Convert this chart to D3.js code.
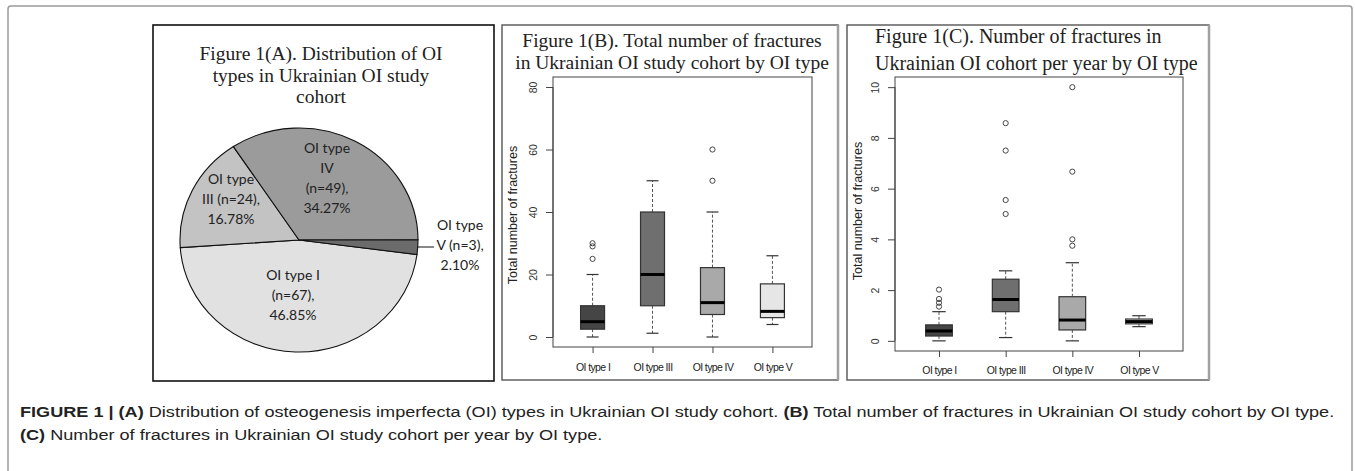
<!DOCTYPE html>
<html>
<head>
<meta charset="utf-8">
<script src="https://cdn.jsdelivr.net/npm/d3@7"></script>
<style>
  body { margin: 0; background: #fff; }
  svg { display: block; }
</style>
</head>
<body>
<svg id="chart" width="1355" height="471"></svg>
<script>
// ---- data: pie (panel A)
const pieCats = ["OI type I", "OI type III", "OI type IV", "OI type V"];
const pieCounts = [67, 24, 49, 3];
const piePcts = ["46.85%", "16.78%", "34.27%", "2.10%"];
const pieLabels = [
  ["OI type I", "(n=67),", "46.85%"],
  ["OI type", "III (n=24),", "16.78%"],
  ["OI type", "IV", "(n=49),", "34.27%"],
  ["OI type", "V (n=3),", "2.10%"]
];

// ---- data: boxplots
const boxCats = ["OI type I", "OI type III", "OI type IV", "OI type V"];

const totLow  = [0, 1.2, 0, 4];
const totQ1   = [2.5, 10, 7.2, 6.2];
const totMed  = [4.9, 20, 11, 8.2];
const totQ3   = [10, 40, 22.2, 17];
const totHigh = [20, 50, 40, 26];
const totOut  = [[25, 29, 30], [], [50, 60], []];
const totTicks = [0, 20, 40, 60, 80];

const yrLow  = [0, 0.13, 0, 0.56];
const yrQ1   = [0.19, 1.15, 0.43, 0.67];
const yrMed  = [0.39, 1.63, 0.82, 0.76];
const yrQ3   = [0.63, 2.43, 1.74, 0.86];
const yrHigh = [1.15, 2.76, 3.08, 0.99];
const yrOut  = [[1.35, 1.5, 1.65, 2.02], [5.0, 5.55, 7.5, 8.58], [3.75, 4.0, 6.67, 10], []];
const yrTicks = [0, 2, 4, 6, 8, 10];

const boxFills = ["#454545", "#6f6f6f", "#a9a9a9", "#e6e6e6"];
const pieFills = ["#e1e1e1", "#c3c3c3", "#9b9b9b", "#6b6b6b"];

const svg = d3.select("#chart");
const serif = "'Liberation Serif', 'Times New Roman', serif";
const sans = "'Liberation Sans', Arial, sans-serif";

svg.append("rect").attr("width", 1355).attr("height", 471).attr("fill", "#fff");

// outer frame
svg.append("rect")
  .attr("x", 8).attr("y", 6).attr("width", 1344).attr("height", 480)
  .attr("rx", 3)
  .attr("fill", "none").attr("stroke", "#9a9a9a").attr("stroke-width", 1.5);

// ================= Panel A =================
const pA = svg.append("g");
pA.append("rect")
  .attr("x", 153).attr("y", 25).attr("width", 341).attr("height", 356)
  .attr("fill", "#fff").attr("stroke", "#111").attr("stroke-width", 1.6);

const titleA = ["Figure 1(A). Distribution of OI", "types in Ukrainian OI study", "cohort"];
pA.selectAll(".tA").data(titleA).enter().append("text")
  .attr("x", 321).attr("y", (d, i) => 60 + i * 21.5)
  .attr("text-anchor", "middle")
  .style("font-family", serif).style("font-size", "19.5px").attr("fill", "#222")
  .text(d => d);

const cx = 299, cy = 240, rx = 119, ry = 112;
const pie = d3.pie().sort(null)
  .startAngle(Math.PI / 2 + 0.13)
  .endAngle(Math.PI / 2 + 0.13 + 2 * Math.PI);
const arc = d3.arc().innerRadius(0).outerRadius(rx);

const pieG = pA.append("g")
  .attr("transform", `translate(${cx},${cy}) scale(1,${ry / rx})`);
pieG.selectAll("path")
  .data(pie(pieCounts))
  .enter().append("path")
  .attr("d", arc)
  .attr("fill", (d, i) => pieFills[i])
  .attr("stroke", "#111")
  .attr("stroke-width", 1.1)
  .attr("vector-effect", "non-scaling-stroke");

// label anchors (centre of each label block)
const labelPos = [[293, 295], [231, 199], [327, 178], [460, 245]];
pieLabels.forEach((lines, i) => {
  const n = lines.length, lh = 20;
  pA.selectAll(null).data(lines).enter().append("text")
    .attr("x", labelPos[i][0])
    .attr("y", (d, j) => labelPos[i][1] + (j - (n - 1) / 2) * lh + 5)
    .attr("text-anchor", "middle")
    .style("font-family", "Lato, 'Open Sans', sans-serif")
    .style("font-size", "14px").attr("fill", "#222")
    .text(d => d);
});
// leader line for OI type V
pA.append("line")
  .attr("x1", 417).attr("y1", 247).attr("x2", 434).attr("y2", 247)
  .attr("stroke", "#111").attr("stroke-width", 1);

// ================= Box panels =================
function boxPanel(cfg) {
  const g = svg.append("g");
  g.append("rect")
    .attr("x", cfg.px).attr("y", 25).attr("width", cfg.pw).attr("height", 355)
    .attr("fill", "#fff").attr("stroke", "#555").attr("stroke-width", 1.4);
  g.append("line")
    .attr("x1", cfg.px + cfg.pw).attr("x2", cfg.px + cfg.pw)
    .attr("y1", 25).attr("y2", 380)
    .attr("stroke", "#a0a0a0").attr("stroke-width", 2.5);

  cfg.title.forEach((t, i) => {
    g.append("text")
      .attr("x", cfg.tx).attr("y", cfg.ty + i * cfg.tl)
      .attr("text-anchor", cfg.anchor)
      .style("font-family", serif).style("font-size", cfg.tfs).attr("fill", "#222")
      .text(t);
  });

  const x = d3.scaleLinear().domain([0.34, 4.66]).range([cfg.left, cfg.right]);
  const span = cfg.yMax;
  const y = d3.scaleLinear().domain([-0.04 * span, 1.04 * span]).range([cfg.bottom, cfg.top]);
  const bw = x(1.4) - x(1);

  // plot box
  g.append("rect")
    .attr("x", cfg.left).attr("y", cfg.top)
    .attr("width", cfg.right - cfg.left).attr("height", cfg.bottom - cfg.top)
    .attr("fill", "none").attr("stroke", "#555").attr("stroke-width", 1.1);

  const d = boxCats.map((c, i) => ({
    i, pos: i + 1, low: cfg.low[i], q1: cfg.q1[i], med: cfg.med[i],
    q3: cfg.q3[i], high: cfg.high[i], out: cfg.out[i]
  }));

  const b = g.selectAll(".box").data(d).enter().append("g");
  // whiskers
  b.append("line")
    .attr("x1", v => x(v.pos)).attr("x2", v => x(v.pos))
    .attr("y1", v => y(v.q3)).attr("y2", v => y(v.high))
    .attr("stroke", "#555").attr("stroke-dasharray", "3,2").attr("stroke-width", 1);
  b.append("line")
    .attr("x1", v => x(v.pos)).attr("x2", v => x(v.pos))
    .attr("y1", v => y(v.q1)).attr("y2", v => y(v.low))
    .attr("stroke", "#555").attr("stroke-dasharray", "3,2").attr("stroke-width", 1);
  // staples
  ["low", "high"].forEach(k => {
    b.append("line")
      .attr("x1", v => x(v.pos) - bw / 4).attr("x2", v => x(v.pos) + bw / 4)
      .attr("y1", v => y(v[k])).attr("y2", v => y(v[k]))
      .attr("stroke", "#333").attr("stroke-width", 1.2);
  });
  // boxes
  b.append("rect")
    .attr("x", v => x(v.pos) - bw / 2).attr("width", bw)
    .attr("y", v => y(v.q3)).attr("height", v => y(v.q1) - y(v.q3))
    .attr("fill", v => boxFills[v.i]).attr("stroke", "#333").attr("stroke-width", 1.2);
  // medians
  b.append("line")
    .attr("x1", v => x(v.pos) - bw / 2).attr("x2", v => x(v.pos) + bw / 2)
    .attr("y1", v => y(v.med)).attr("y2", v => y(v.med))
    .attr("stroke", "#000").attr("stroke-width", 3);
  // outliers
  b.selectAll("circle").data(v => v.out.map(o => ({ pos: v.pos, o }))).enter()
    .append("circle")
    .attr("cx", o => x(o.pos)).attr("cy", o => y(o.o)).attr("r", 2.6)
    .attr("fill", "none").attr("stroke", "#333").attr("stroke-width", 0.9);

  // y axis
  const ya = g.append("g").attr("transform", `translate(${cfg.left},0)`)
    .call(d3.axisLeft(y).tickValues(cfg.ticks).tickSize(7).tickSizeOuter(0));
  ya.select(".domain").remove();
  ya.append("line")
    .attr("y1", y(cfg.ticks[0])).attr("y2", y(cfg.ticks[cfg.ticks.length - 1]))
    .attr("stroke", "#444");
  ya.selectAll(".tick line").attr("stroke", "#444");
  ya.selectAll(".tick text")
    .attr("x", null).attr("dy", null)
    .attr("transform", "translate(-16.5,0) rotate(-90)")
    .attr("text-anchor", "middle")
    .style("font-family", sans).style("font-size", "10.5px").attr("fill", "#333");

  // x axis
  const xa = g.append("g").attr("transform", `translate(0,${cfg.bottom})`)
    .call(d3.axisBottom(x).tickValues([1, 2, 3, 4]).tickFormat(p => boxCats[p - 1]).tickSize(6).tickSizeOuter(0));
  xa.select(".domain").remove();
  xa.selectAll(".tick line").attr("stroke", "#444");
  xa.selectAll(".tick text")
    .attr("y", cfg.xly).attr("dy", null)
    .style("font-family", sans).style("font-size", "10.5px").attr("fill", "#222")
    .style("letter-spacing", "-0.6px");

  // y title
  const yc = (cfg.top + cfg.bottom) / 2 + cfg.yoff;
  g.append("text")
    .attr("transform", `translate(${cfg.ytx},${yc}) rotate(-90)`)
    .attr("text-anchor", "middle")
    .style("font-family", sans).style("font-size", "12.5px").attr("fill", "#222")
    .text("Total number of fractures");
}

boxPanel({
  px: 502, pw: 336,
  title: ["Figure 1(B). Total number of fractures", "in Ukrainian OI study cohort by OI type"],
  tx: 672, ty: 47, tl: 22, anchor: "middle", tfs: "19.5px",
  left: 553, right: 812, top: 77, bottom: 347,
  yMax: 80, ticks: totTicks,
  low: totLow, q1: totQ1, med: totMed, q3: totQ3, high: totHigh, out: totOut,
  xly: 24, ytx: 517, yoff: 3
});

boxPanel({
  px: 847, pw: 362,
  title: ["Figure 1(C). Number of fractures in", "Ukrainian OI cohort per year by OI type"],
  tx: 875, ty: 43, tl: 27, anchor: "start", tfs: "20px",
  left: 895, right: 1183, top: 77, bottom: 351,
  yMax: 10, ticks: yrTicks,
  low: yrLow, q1: yrQ1, med: yrMed, q3: yrQ3, high: yrHigh, out: yrOut,
  xly: 23, ytx: 862, yoff: -3
});

// ================= Caption =================
const cap = svg.append("g").attr("transform", "translate(20,0)");
const capLines = [
  [["FIGURE 1 | ", true], ["(A)", true], [" Distribution of osteogenesis imperfecta (OI) types in Ukrainian OI study cohort. ", false],
   ["(B)", true], [" Total number of fractures in Ukrainian OI study cohort by OI type.", false]],
  [["(C)", true], [" Number of fractures in Ukrainian OI study cohort per year by OI type.", false]]
];
const capTexts = capLines.map((parts, i) => {
  const t = cap.append("text").attr("x", 0).attr("y", 417 + i * 23)
    .style("font-family", sans).style("font-size", "15.5px").attr("fill", "#222")
    .attr("xml:space", "preserve").style("white-space", "pre");
  parts.forEach(p => t.append("tspan").style("font-weight", p[1] ? "bold" : "normal").text(p[0]));
  return t;
});
const w0 = capTexts[0].node().getComputedTextLength();
const sx = 1315 / w0;
cap.attr("transform", `translate(20,0) scale(${sx},1)`);
</script>
</body>
</html>
